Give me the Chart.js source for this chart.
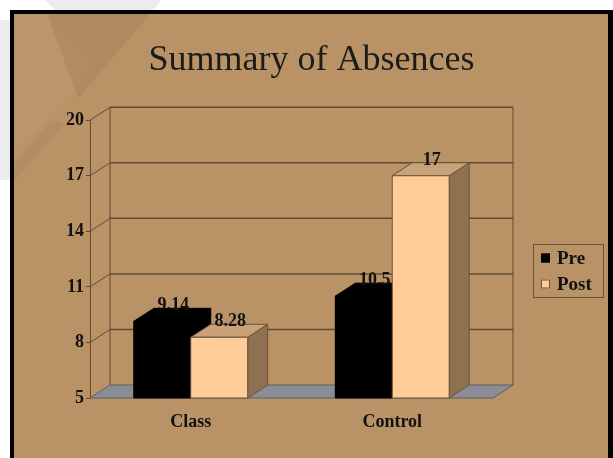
<!DOCTYPE html>
<html><head><meta charset="utf-8">
<script src="https://cdn.jsdelivr.net/npm/chart.js@4"></script>
<style>html,body{margin:0;padding:0;background:#fff;overflow:hidden}canvas{display:block}</style>
</head><body>
<canvas id="c" width="613" height="458"></canvas>
<script>
const categories = ['Class', 'Control'];
const seriesNames = ['Pre', 'Post'];
const preValues = [9.14, 10.5];
const postValues = [8.28, 17];
const yTickValues = [5, 8, 11, 14, 17, 20];
const titleText = 'Summary of Absences';

const SERIF = '"Liberation Serif", "Times New Roman", serif';
const TAN = '#b99366';
const LINE = '#5f4b33';
const DX = 20, DY = 13;
const faceColors = [
  { front: '#000000', top: '#000000', side: '#000000', edge: '#000000' },
  { front: '#ffcc99', top: '#c9a377', side: '#8f7152', edge: '#6a5238' }
];

function poly(ctx, pts, fill, stroke, lw) {
  ctx.beginPath();
  ctx.moveTo(pts[0][0], pts[0][1]);
  for (let i = 1; i < pts.length; i++) ctx.lineTo(pts[i][0], pts[i][1]);
  ctx.closePath();
  if (fill) { ctx.fillStyle = fill; ctx.fill(); }
  if (stroke) { ctx.strokeStyle = stroke; ctx.lineWidth = lw || 1; ctx.stroke(); }
}
function line(ctx, x1, y1, x2, y2, color, lw) {
  ctx.beginPath(); ctx.moveTo(x1, y1); ctx.lineTo(x2, y2);
  ctx.strokeStyle = color; ctx.lineWidth = lw || 1; ctx.stroke();
}

const backgroundPlugin = {
  id: 'slideBackground',
  beforeDraw(chart) {
    const ctx = chart.ctx, w = chart.width, h = chart.height;
    ctx.save();
    ctx.fillStyle = '#ffffff'; ctx.fillRect(0, 0, w, h);
    // faint watermark outside the frame
    ctx.fillStyle = '#ececec';
    ctx.beginPath(); ctx.moveTo(45, 0); ctx.lineTo(160, 0); ctx.quadraticCurveTo(158, 9, 150, 10); ctx.lineTo(55, 10); ctx.closePath(); ctx.fill();
    ctx.fillRect(0, 20, 10, 160);
    // frame
    ctx.fillStyle = '#000'; ctx.fillRect(10, 10, w - 10, h - 10);
    ctx.fillStyle = TAN; ctx.fillRect(14, 14, w - 19, h - 14);
    // watermark inside frame
    ctx.beginPath(); ctx.rect(14, 14, w - 19, h - 14); ctx.clip();
    ctx.fillStyle = 'rgba(255,255,255,0.035)';
    ctx.beginPath(); ctx.moveTo(14, 14); ctx.lineTo(47, 14); ctx.lineTo(82, 50);
    ctx.quadraticCurveTo(95, 64, 82, 80); ctx.lineTo(40, 126); ctx.lineTo(14, 150); ctx.closePath(); ctx.fill();
    ctx.fillStyle = 'rgba(90,60,30,0.10)';
    ctx.beginPath(); ctx.moveTo(47, 14); ctx.lineTo(150, 14); ctx.lineTo(78, 98); ctx.closePath(); ctx.fill();
    ctx.fillStyle = 'rgba(90,60,30,0.06)';
    ctx.beginPath(); ctx.moveTo(52, 120); ctx.lineTo(64, 124); ctx.lineTo(14, 182); ctx.lineTo(14, 164); ctx.closePath(); ctx.fill();
    ctx.restore();
  }
};

const wallPlugin = {
  id: 'walls3d',
  beforeDatasetsDraw(chart) {
    const ctx = chart.ctx, ca = chart.chartArea, ys = chart.scales.y;
    ctx.save();
    // floor
    poly(ctx, [[ca.left, ca.bottom], [ca.right, ca.bottom], [ca.right + DX, ca.bottom - DY], [ca.left + DX, ca.bottom - DY]], '#8a8d96', '#5c5f66', 1);
    const topY = ys.getPixelForValue(ys.max);
    // back wall verticals
    line(ctx, ca.left + DX, topY - DY, ca.left + DX, ca.bottom - DY, LINE, 1);
    line(ctx, ca.right + DX, topY - DY, ca.right + DX, ca.bottom - DY, LINE, 1);
    ys.ticks.forEach(t => {
      const py = ys.getPixelForValue(t.value);
      if (t.value > ys.min) {
        line(ctx, ca.left + DX, py - DY, ca.right + DX, py - DY, LINE, 1.5);
        line(ctx, ca.left, py, ca.left + DX, py - DY, LINE, 1);
      }
    });
    ctx.restore();
  },
  afterDatasetsDraw(chart) {
    const ctx = chart.ctx, ys = chart.scales.y;
    const floorY = ys.getPixelForValue(ys.min);
    ctx.save();
    const n = chart.data.labels.length;
    const metas = chart.data.datasets.map((d, i) => chart.getDatasetMeta(i));
    for (let i = 0; i < n; i++) {
      metas.forEach((meta, di) => {
        const el = meta.data[i];
        const p = el.getProps(['x', 'y', 'base', 'width'], true);
        const l = p.x - p.width / 2, r = p.x + p.width / 2, t = p.y, b = Math.min(p.base, floorY);
        const c = faceColors[di];
        poly(ctx, [[r, t], [r + DX, t - DY], [r + DX, b - DY], [r, b]], c.side, c.edge, 1);
        poly(ctx, [[l, t], [l + DX, t - DY], [r + DX, t - DY], [r, t]], c.top, c.edge, 1);
        poly(ctx, [[l, t], [r, t], [r, b], [l, b]], c.front, c.edge, 1);
      });
    }
    // value labels
    ctx.fillStyle = '#111';
    ctx.font = 'bold 18px ' + SERIF;
    ctx.textAlign = 'center';
    ctx.textBaseline = 'alphabetic';
    metas.forEach((meta, di) => {
      meta.data.forEach((el, i) => {
        const p = el.getProps(['x', 'y'], true);
        const v = chart.data.datasets[di].data[i];
        ctx.fillText(String(v), p.x + 11, p.y - DY + 2);
      });
    });
    ctx.restore();
  },
  afterDraw(chart) {
    const ctx = chart.ctx;
    ctx.save();
    // legend box
    const bx = 533, by = 244, bw = 70, bh = 53;
    ctx.strokeStyle = '#6a5238'; ctx.lineWidth = 1;
    ctx.strokeRect(bx + 0.5, by + 0.5, bw, bh);
    ctx.font = 'bold 19px ' + SERIF;
    ctx.textAlign = 'left'; ctx.textBaseline = 'middle';
    chart.data.datasets.forEach((ds, di) => {
      const cy = by + 14 + di * 26;
      ctx.fillStyle = faceColors[di].front;
      ctx.fillRect(bx + 8, cy - 4.5, 9, 9);
      ctx.strokeStyle = faceColors[di].edge;
      ctx.strokeRect(bx + 8.5, cy - 4, 8, 8);
      ctx.fillStyle = '#111';
      ctx.fillText(ds.label, bx + 24, cy + 1);
    });
    ctx.restore();
  }
};

new Chart(document.getElementById('c'), {
  type: 'bar',
  data: {
    labels: categories,
    datasets: [
      { label: seriesNames[0], data: preValues, backgroundColor: faceColors[0].front, borderWidth: 0, clip: 0 },
      { label: seriesNames[1], data: postValues, backgroundColor: faceColors[1].front, borderWidth: 0, clip: 0 }
    ]
  },
  options: {
    responsive: false,
    animation: false,
    devicePixelRatio: 1,
    layout: { padding: { left: 10, right: 0, top: 0, bottom: 0 } },
    datasets: { bar: { categoryPercentage: 0.565, barPercentage: 1 } },
    plugins: {
      legend: { display: false },
      tooltip: { enabled: false },
      title: {
        display: true, text: titleText, color: '#1c1c1c',
        font: { family: SERIF, size: 36, weight: 'normal' },
        padding: { top: 39, bottom: 38 }
      }
    },
    scales: {
      x: {
        grid: { display: false }, border: { display: false },
        ticks: { color: '#111', font: { family: SERIF, size: 18, weight: 'bold' }, padding: 6 },
        afterFit(s) { s.height = 60; }
      },
      y: {
        min: 5, max: 20,
        afterBuildTicks(s) { s.ticks = yTickValues.map(v => ({ value: v })); },
        grid: { drawOnChartArea: false, drawTicks: true, tickLength: 4, color: LINE },
        border: { display: true, color: LINE, width: 1 },
        ticks: { color: '#111', font: { family: SERIF, size: 18, weight: 'bold' }, padding: 2 },
        afterFit(s) { s.width = 80; }
      },
      yR: {
        position: 'right', display: true,
        grid: { display: false }, border: { display: false },
        ticks: { display: false },
        afterFit(s) { s.width = 120; }
      }
    }
  },
  plugins: [backgroundPlugin, wallPlugin]
});
</script>
</body></html>
